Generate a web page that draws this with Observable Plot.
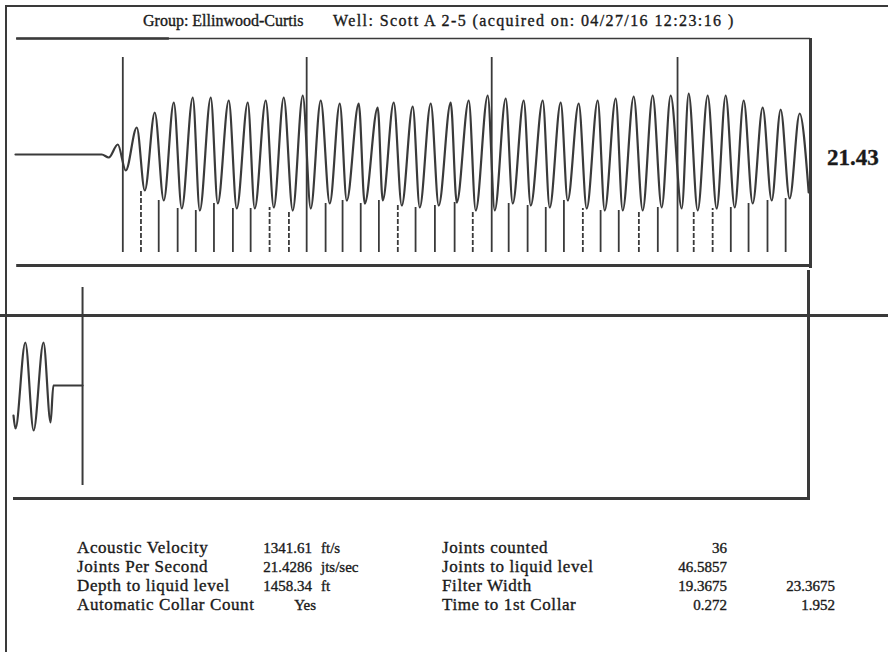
<!DOCTYPE html>
<html>
<head>
<meta charset="utf-8">
<script src="https://cdn.jsdelivr.net/npm/d3@7"></script>
<script src="https://cdn.jsdelivr.net/npm/@observablehq/plot@0.6"></script>
<style>
  html, body { margin: 0; padding: 0; background: #fff; }
  #page { position: relative; width: 888px; height: 652px; overflow: hidden; background: #fff;
          font-family: "Liberation Serif", "DejaVu Serif", serif; color: #1a1a1a; }
  .abs { position: absolute; white-space: nowrap; line-height: 20px; -webkit-text-stroke: 0.35px #1a1a1a; }
  .line { position: absolute; background: #3a3a3a; }
  svg { position: absolute; left: 0; overflow: visible; }
</style>
</head>
<body>
<div id="page"></div>
<script>
// ---------------- data ----------------
// Top panel: acoustic trace, time in seconds, amplitude in arbitrary units
const waveT = [0, 0.2187, 0.2364, 0.2593, 0.2795, 0.3074, 0.3277, 0.3530, 0.3758, 0.4012, 0.4214,
  0.4493, 0.4671, 0.4949, 0.5127, 0.5405, 0.5608, 0.5887, 0.6064, 0.6343, 0.6546, 0.6799, 0.7027,
  0.7281, 0.7483, 0.7737, 0.7965, 0.8219, 0.8396, 0.8700, 0.8852, 0.9181, 0.9308, 0.9587, 0.9790,
  1.0068, 1.0246, 1.0525, 1.0727, 1.1031, 1.1184, 1.1488, 1.1665, 1.1969, 1.2147, 1.2425, 1.2603,
  1.2881, 1.3059, 1.3363, 1.3540, 1.3819, 1.3996, 1.4275, 1.4478, 1.4757, 1.4934, 1.5213, 1.5390,
  1.5669, 1.5897, 1.6150, 1.6378, 1.6606, 1.6886, 1.7063, 1.7291, 1.7544, 1.7772, 1.8000, 1.8229,
  1.8457, 1.8685, 1.8938, 1.9166, 1.9394, 1.9622, 1.9875, 2.0104];
const waveV = [0, 0, -3, 10, -16, 27, -36, 42, -46, 52, -54,
  57, -56, 57, -49, 54, -54, 52, -54, 54, -53, 57, -56,
  59, -54, 54, -49, 51, -46, 51, -49, 47, -46, 52, -51,
  48, -53, 51, -51, 52, -48, 54, -56, 59, -56, 56, -49,
  54, -51, 54, -53, 52, -46, 51, -54, 54, -56, 56, -56,
  58, -56, 59, -53, 59, -54, 61, -56, 59, -54, 59, -53,
  54, -49, 47, -46, 45, -44, 41, -38];

// Collar (joint) markers
const collarT = [0.272, 0.318, 0.363, 0.411, 0.457, 0.503, 0.551, 0.596, 0.644, 0.693, 0.738, 0.786,
  0.829, 0.875, 0.921, 0.969, 1.014, 1.063, 1.113, 1.159, 1.207, 1.250, 1.298, 1.344, 1.390, 1.438,
  1.483, 1.529, 1.580, 1.628, 1.678, 1.719, 1.767, 1.813, 1.858, 1.906, 1.952];
const collarTop = [97, -36, -46, -54, -56, -49, -54, -54, -53, -56, 97, -49,
  -46, -49, -46, -51, -53, -51, -48, -56, 97, -49, -51, -53, -46, -54,
  -56, -56, -56, -53, 97, -56, -54, -53, -49, -46, -44];
const collarKind = ["tall", "dash", "solid", "solid", "solid", "solid", "solid", "solid", "dash", "dash", "tall", "solid",
  "solid", "solid", "solid", "dash", "solid", "solid", "solid", "dash", "tall", "solid", "solid", "solid", "solid", "dash",
  "solid", "solid", "dash", "solid", "tall", "dash", "dash", "solid", "solid", "solid", "solid"];
const collarBottom = -98;

// Lower panel: liquid level echo
const lowT = [0, 0.005, 0.030, 0.051, 0.076, 0.094, 0.101, 0.175];
const lowV = [-30, -43, 43, -45, 43, -37, 0, 0];
const liquidT = 0.175;
const liquidRange = [-100, 98];

// Text
const titleGroup = "Group: Ellinwood-Curtis";
const titleWell = "Well: Scott A 2-5 (acquired on: 04/27/16 12:23:16 )";
const jointsPerSecondLabel = "21.43";
const statLabels1 = ["Acoustic Velocity", "Joints Per Second", "Depth to liquid level", "Automatic Collar Count"];
const statValues1 = ["1341.61", "21.4286", "1458.34", "Yes"];
const statUnits1 = ["ft/s", "jts/sec", "ft", ""];
const statLabels2 = ["Joints counted", "Joints to liquid level", "Filter Width", "Time to 1st Collar"];
const statValues2 = ["36", "46.5857", "19.3675", "0.272"];
const statValues3 = ["", "", "23.3675", "1.952"];

// ---------------- build ----------------
const page = document.getElementById("page");
const INK = "#3a3a3a";

function addLine(l, t, w, h) {
  const d = document.createElement("div");
  d.className = "line";
  Object.assign(d.style, {left: l + "px", top: t + "px", width: w + "px", height: h + "px"});
  page.appendChild(d);
}
function addText(str, opts) {
  const d = document.createElement("div");
  d.className = "abs";
  d.textContent = str;
  Object.assign(d.style, opts);
  page.appendChild(d);
  return d;
}

// outer border
addLine(5, 5, 883, 2);
addLine(5, 5, 2, 647);

// title
addText(titleGroup, {left: "143px", top: "11px", fontSize: "16px"});
addText(titleWell, {left: "333px", top: "11px", fontSize: "16px", letterSpacing: "1.4px"});

// top panel
const wave = waveT.map((t, i) => ({t, v: waveV[i]}));
const collars = collarT.map((t, i) => ({t, top: collarTop[i], kind: collarKind[i]}));
const xDomain = [0, 2.015];

const topPlot = Plot.plot({
  width: 888, height: 245,
  marginLeft: 15, marginRight: 78, marginTop: 10, marginBottom: 8,
  x: {domain: xDomain, axis: null},
  y: {domain: [-111, 116], axis: null},
  marks: [
    Plot.ruleY([116], {x1: 0.003, x2: xDomain[1], stroke: INK, strokeWidth: 1.3}),
    Plot.ruleY([116], {x1: 0.003, x2: 0.39, stroke: INK, strokeWidth: 2.5}),
    Plot.ruleY([-111], {x1: 0.003, x2: xDomain[1], stroke: INK, strokeWidth: 3}),
    Plot.ruleX([xDomain[1]], {y1: 116, y2: -114, stroke: INK, strokeWidth: 3}),
    Plot.ruleX(collars.filter(d => d.kind !== "dash"), {x: "t", y1: collarBottom, y2: "top", stroke: INK, strokeWidth: 1.8}),
    Plot.ruleX(collars.filter(d => d.kind === "dash"), {x: "t", y1: collarBottom, y2: "top", stroke: INK, strokeWidth: 1.8, strokeDasharray: "5,2"}),
    Plot.line(wave, {x: "t", y: "v", curve: "monotone-x", stroke: INK, strokeWidth: 2.2})
  ]
});
topPlot.style.top = "28px";
page.appendChild(topPlot);

addText(jointsPerSecondLabel, {left: "827px", top: "148px", fontSize: "23px", fontWeight: "bold"});

// separator
addLine(0, 314, 888, 3);

// lower panel
const low = lowT.map((t, i) => ({t, v: lowV[i]}));
const lowPlot = Plot.plot({
  width: 888, height: 237,
  marginLeft: 13, marginRight: 80, marginTop: 47, marginBottom: 7,
  x: {domain: xDomain, axis: null},
  y: {domain: [-113, 70], axis: null},
  marks: [
    Plot.ruleY([-113], {x1: 0, x2: xDomain[1], stroke: INK, strokeWidth: 3}),
    Plot.ruleX([xDomain[1]], {y1: 115, y2: -115, stroke: INK, strokeWidth: 3}),
    Plot.ruleX([liquidT], {y1: liquidRange[0], y2: liquidRange[1], stroke: INK, strokeWidth: 2}),
    Plot.line(low, {x: "t", y: "v", curve: "monotone-x", stroke: INK, strokeWidth: 2.2})
  ]
});
lowPlot.style.top = "268px";
page.appendChild(lowPlot);

// statistics block
const rowTop = [538, 557, 576, 595];
const lab = {fontSize: "17px", letterSpacing: "0.6px"};
const num = {fontSize: "15px"};
statLabels1.forEach((s, i) => {
  const t = rowTop[i] + "px";
  addText(s, {...lab, left: "77px", top: t});
  addText(statValues1[i], {...num, right: (888 - (statValues1[i] === "Yes" ? 316 : 312)) + "px", top: t});
  if (statUnits1[i]) addText(statUnits1[i], {...num, left: "321px", top: t});
  addText(statLabels2[i], {...lab, left: "442px", top: t});
  addText(statValues2[i], {...num, right: (888 - 727) + "px", top: t});
  if (statValues3[i]) addText(statValues3[i], {...num, right: (888 - 835) + "px", top: t});
});
</script>
</body>
</html>
